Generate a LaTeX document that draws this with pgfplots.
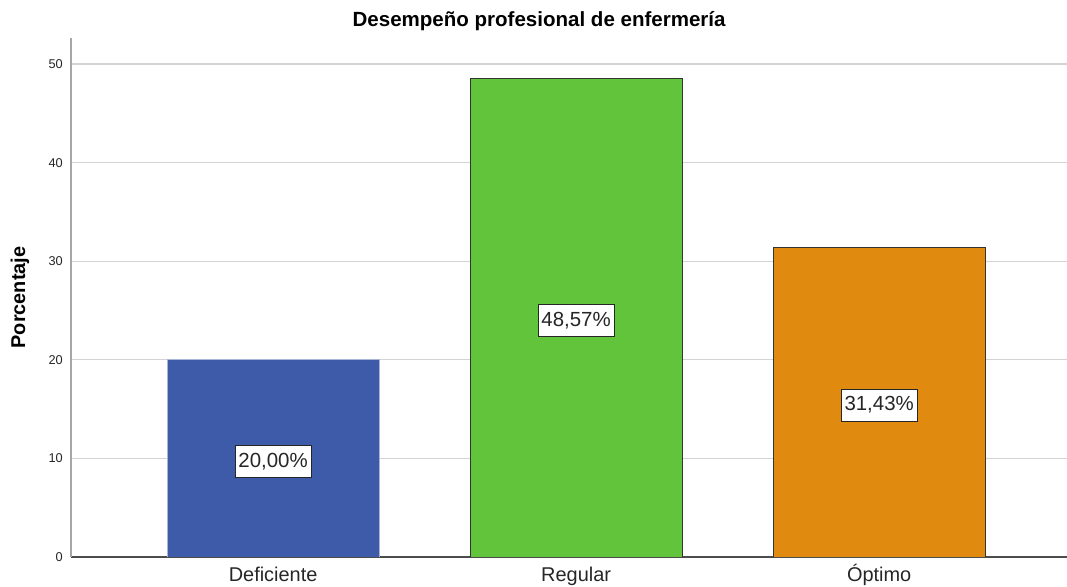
\documentclass[border=0pt]{standalone}
\usepackage{fontspec}
\setmainfont{Liberation Sans}
\usepackage{pgfplots}
\pgfplotsset{compat=1.18}
\definecolor{cblue}{HTML}{3E5BA9}
\definecolor{cgreen}{HTML}{62C43A}
\definecolor{corange}{HTML}{E08A10}
\definecolor{gridc}{HTML}{D3D3D3}
\begin{document}
\begin{tikzpicture}
\useasboundingbox (0,0) rectangle (1067bp,587bp);
\begin{axis}[
  at={(71bp,30bp)}, anchor=south west,
  scale only axis, width=996bp, height=519bp,
  xmin=-0.667, xmax=2.62, ymin=0, ymax=52.64,
  axis lines=left, axis line style={-},
  x axis line style={draw=black!70, line width=1.2bp},
  y axis line style={draw=black!35, line width=1.5bp},
  ytick={0,10,20,30,40,50},
  xtick={0,1,2}, xticklabels={Deficiente,Regular,Óptimo},
  major tick length=0pt,
  ymajorgrids, major grid style={draw=gridc, line width=1.2bp},
  /pgf/number format/assume math mode=true,
  yticklabel style={font=\fontsize{12.8}{14}\selectfont, text=black!85, anchor=east, inner sep=0pt, xshift=-8bp},
  xticklabel style={font=\fontsize{20}{24}\selectfont, text=black!85, anchor=north, inner sep=0pt, text height=14.5bp, yshift=-10bp},
  title={Desempeño profesional de enfermería},
  title style={font=\bfseries\fontsize{20.6}{24}\selectfont, at={(axis description cs:0.47,1)}, anchor=base, yshift=6bp},
  ylabel={Porcentaje},
  ylabel style={font=\bfseries\fontsize{20}{24}\selectfont, at={(axis description cs:-0.0512,0.5)}, anchor=center},
]
\addplot[ybar, bar width=0.7, bar shift=0pt, fill=cblue, draw=cblue!45!white, line width=1bp] coordinates {(0,20)};
\addplot[ybar, bar width=0.7, bar shift=0pt, fill=cgreen, draw=black!80, line width=1bp] coordinates {(1,48.57)};
\addplot[ybar, bar width=0.7, bar shift=0pt, fill=corange, draw=black!80, line width=1bp] coordinates {(2,31.43)};
\addplot[draw=none, mark=none, point meta=explicit symbolic,
  nodes near coords={\pgfplotspointmeta\%},
  nodes near coords style={anchor=center, yshift=-3bp, fill=white, draw=black!85, line width=0.8bp, inner xsep=3.3bp, inner ysep=0pt, minimum height=32bp, font=\fontsize{20.5}{24}\selectfont, text=black!85}]
  table[meta=lab] {
x y lab
0 10 20,00
1 24.285 48,57
2 15.715 31,43
};
\end{axis}
\end{tikzpicture}
\end{document}
